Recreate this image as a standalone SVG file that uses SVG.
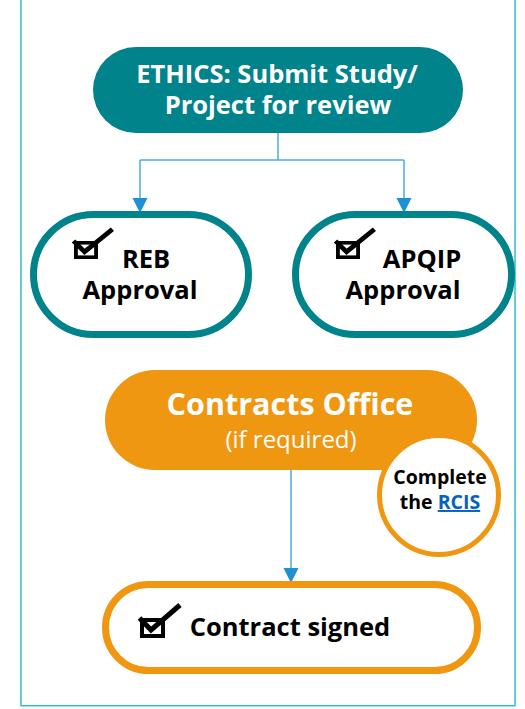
<svg xmlns="http://www.w3.org/2000/svg" width="525" height="709" viewBox="0 0 525 709">
<style>
.t{font-family:"Open Sans","Noto Sans","Liberation Sans",sans-serif;font-weight:700;text-anchor:middle}
.w{fill:#ffffff}
.k{fill:#000000}
.conn{fill:none;stroke:#4FA9E2;stroke-width:1.5}
.teal{fill:#ffffff;stroke:#00838A;stroke-width:7}
.org{fill:#ffffff;stroke:#EF9711;stroke-width:7}
</style>
<defs>
<g id="chk">
<rect x="2" y="2" width="21" height="16" fill="none" stroke="#000" stroke-width="4"/>
<path d="M-0.5,0 L11,12 L40,-13" fill="none" stroke="#000" stroke-width="5"/>
</g>
</defs>
<rect id="frame" x="21" y="-10" width="494" height="715.7" fill="none" stroke="#2FBFC4" stroke-width="1.5"/>
<g id="connectors">
<path class="conn" d="M278,133 V160 M140,160 H404 M140,160 V199 M404,160 V199"/>
<path d="M132.5,198 L147.5,198 L140,213 Z" fill="#1E90D4"/>
<path d="M396.5,198 L411.5,198 L404,213 Z" fill="#1E90D4"/>
<path class="conn" d="M291,470 V569"/>
<path d="M283.5,568 L298.5,568 L291,583 Z" fill="#1E90D4"/>
</g>
<g id="ethics">
<rect x="93" y="47" width="370" height="86" rx="43" fill="#00838A"/>
<text class="t w" x="277" y="83" font-size="25.5">ETHICS: Submit Study/</text>
<text class="t w" x="278" y="114" font-size="25.5">Project for review</text>
</g>
<g id="reb">
<rect class="teal" x="33.5" y="214.5" width="215" height="120" rx="60"/>
<use href="#chk" transform="translate(74,241) scale(0.96,0.9)"/>
<text class="t k" x="146" y="268" font-size="25.5">REB</text>
<text class="t k" x="140" y="299" font-size="25.5">Approval</text>
</g>
<g id="apqip">
<rect class="teal" x="295.5" y="214.5" width="216" height="120" rx="60"/>
<use href="#chk" transform="translate(336,241) scale(0.96,0.9)"/>
<text class="t k" x="422" y="268" font-size="25.5">APQIP</text>
<text class="t k" x="403" y="299" font-size="25.5">Approval</text>
</g>
<g id="contracts">
<rect x="105" y="370" width="372" height="100" rx="50" fill="#EF9711"/>
<text class="t w" x="290" y="415" font-size="30.5">Contracts Office</text>
<text class="t w" x="291" y="448" font-size="24" style="font-weight:400">(if required)</text>
</g>
<g id="rcis">
<circle cx="439" cy="495" r="59.5" fill="#ffffff" stroke="#EF9711" stroke-width="5"/>
<text class="t k" x="440" y="484" font-size="19.5">Complete</text>
<text class="t k" x="440" y="509" font-size="19.5"><tspan>the </tspan><tspan fill="#0563C1" text-decoration="underline">RCIS</tspan></text>
</g>
<g id="signed">
<rect class="org" x="105.5" y="584.5" width="372" height="86" rx="43"/>
<use href="#chk" transform="translate(140,618)"/>
<text class="t k" x="290" y="636" font-size="25.5">Contract signed</text>
</g>
</svg>
